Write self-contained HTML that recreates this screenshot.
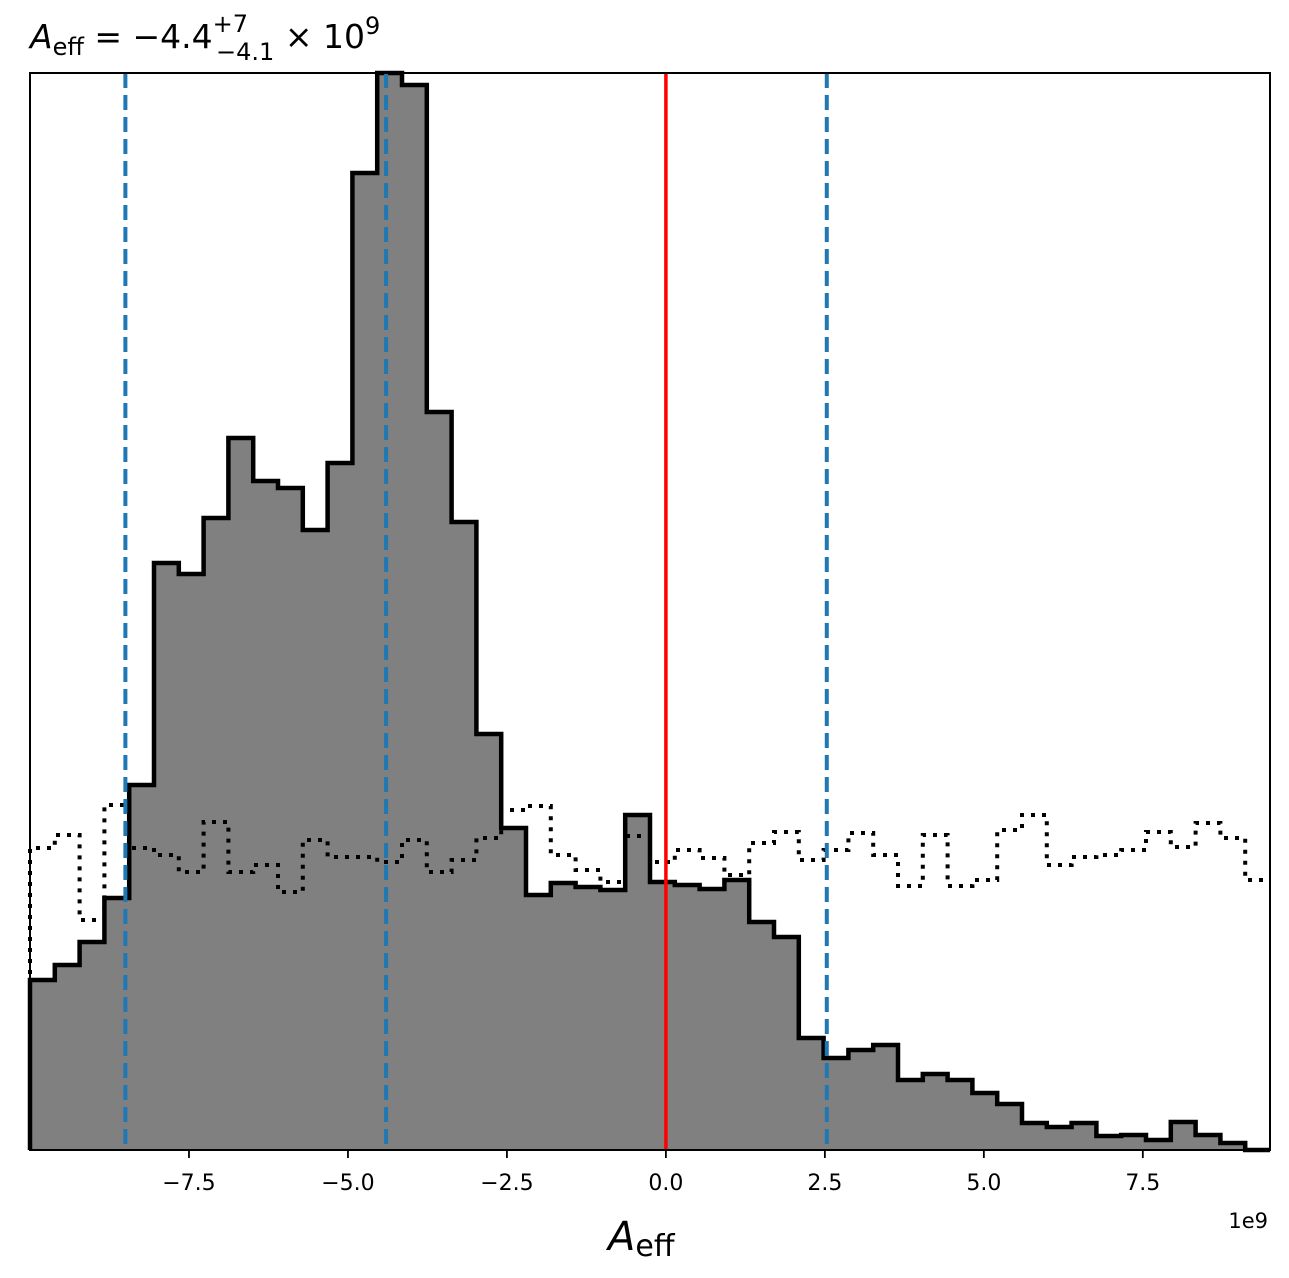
<!DOCTYPE html>
<html><head><meta charset="utf-8"><style>
body{margin:0;background:#fff;}
svg{display:block;font-family:"DejaVu Sans","Liberation Sans",sans-serif;}
</style></head><body>
<svg id="chart" width="1289" height="1278" viewBox="0 0 1289 1278">
<rect x="0" y="0" width="1289" height="1278" fill="#fff"/>
<g id="plot"></g>
<text x="30" y="48" font-size="33"><tspan font-style="italic">A</tspan><tspan font-size="24" dy="7">eff</tspan><tspan dy="-7"> = −4.4</tspan><tspan font-size="24" dy="-16">+7</tspan><tspan font-size="24" dx="-32" dy="28">−4.1</tspan><tspan dy="-12"> × 10</tspan><tspan font-size="24" dy="-14">9</tspan></text>
<text x="608" y="1250" font-size="40"><tspan font-style="italic">A</tspan><tspan font-size="30" dy="6">eff</tspan></text>
<text x="1268" y="1228" font-size="21" text-anchor="end">1e9</text>
</svg>
<script>
const binEdgesStart = -10.0;
const binWidth = 0.39;
const counts = [170,185,208,252,365,587,576,632,712,669,662,620,687,977,1077,1065,738,628,416,322,255,267,263,260,335,268,265,261,270,228,213,112,92,100,105,70,76,70,57,46,27,23,27,14,15,10,28,15,7,0];
const priorCounts = [302,315,230,345,302,295,278,328,278,285,258,310,293,293,288,310,278,290,312,340,344,295,280,268,314,288,300,292,275,307,318,290,300,317,295,264,315,264,270,320,335,285,293,295,300,318,303,327,312,270];
const xTicks = [-7.5,-5.0,-2.5,0.0,2.5,5.0,7.5];
const xTickLabels = ["−7.5","−5.0","−2.5","0.0","2.5","5.0","7.5"];
const intervalLines = [-8.5,-4.4,2.53];
const trueValue = 0;

const L=30,R=1270,T=73,B=1150,xmin=-10,xmax=9.5,ymax=1077;
const xs=v=>L+(v-xmin)/(xmax-xmin)*(R-L);
const ys=v=>B-v/ymax*(B-T);
const NS="http://www.w3.org/2000/svg";
const g=document.getElementById('plot');
function mk(t,a){const e=document.createElementNS(NS,t);for(const k in a)e.setAttribute(k,a[k]);g.appendChild(e);return e;}
function stepPath(arr){let d=`M${xs(binEdgesStart)},${B}`;arr.forEach((c,i)=>{const x0=xs(binEdgesStart+i*binWidth),x1=xs(binEdgesStart+(i+1)*binWidth);d+=` L${x0},${ys(c)} L${x1},${ys(c)}`;});return d;}
let d=stepPath(counts)+` L${xs(binEdgesStart+counts.length*binWidth)},${B} Z`;
const fill=mk('path',{d:d,fill:'#808080',stroke:'none'});


const prior=mk('path',{d:stepPath(priorCounts),fill:'none',stroke:'#000','stroke-width':4,'stroke-dasharray':'4,7'});


const line=mk('path',{d:stepPath(counts),fill:'none',stroke:'#000','stroke-width':4.5,'stroke-linejoin':'miter'});


intervalLines.forEach(v=>{const l=mk('line',{x1:xs(v),x2:xs(v),y1:T,y2:B,stroke:'#1f77b4','stroke-width':4,'stroke-dasharray':'15,7'});

});
const tl=mk('line',{x1:xs(trueValue),x2:xs(trueValue),y1:T,y2:B,stroke:'#ff0000','stroke-width':3.5});


const fr=mk('rect',{x:L,y:T,width:R-L,height:B-T,fill:'none',stroke:'#000','stroke-width':2});


xTicks.forEach((v,i)=>{const t=mk('line',{x1:xs(v),x2:xs(v),y1:B,y2:B+8,stroke:'#000','stroke-width':1.8});


const lb=mk('text',{x:xs(v),y:B+40,'font-size':22,'text-anchor':'middle'});lb.textContent=xTickLabels[i];

});
</script>
</body></html>
